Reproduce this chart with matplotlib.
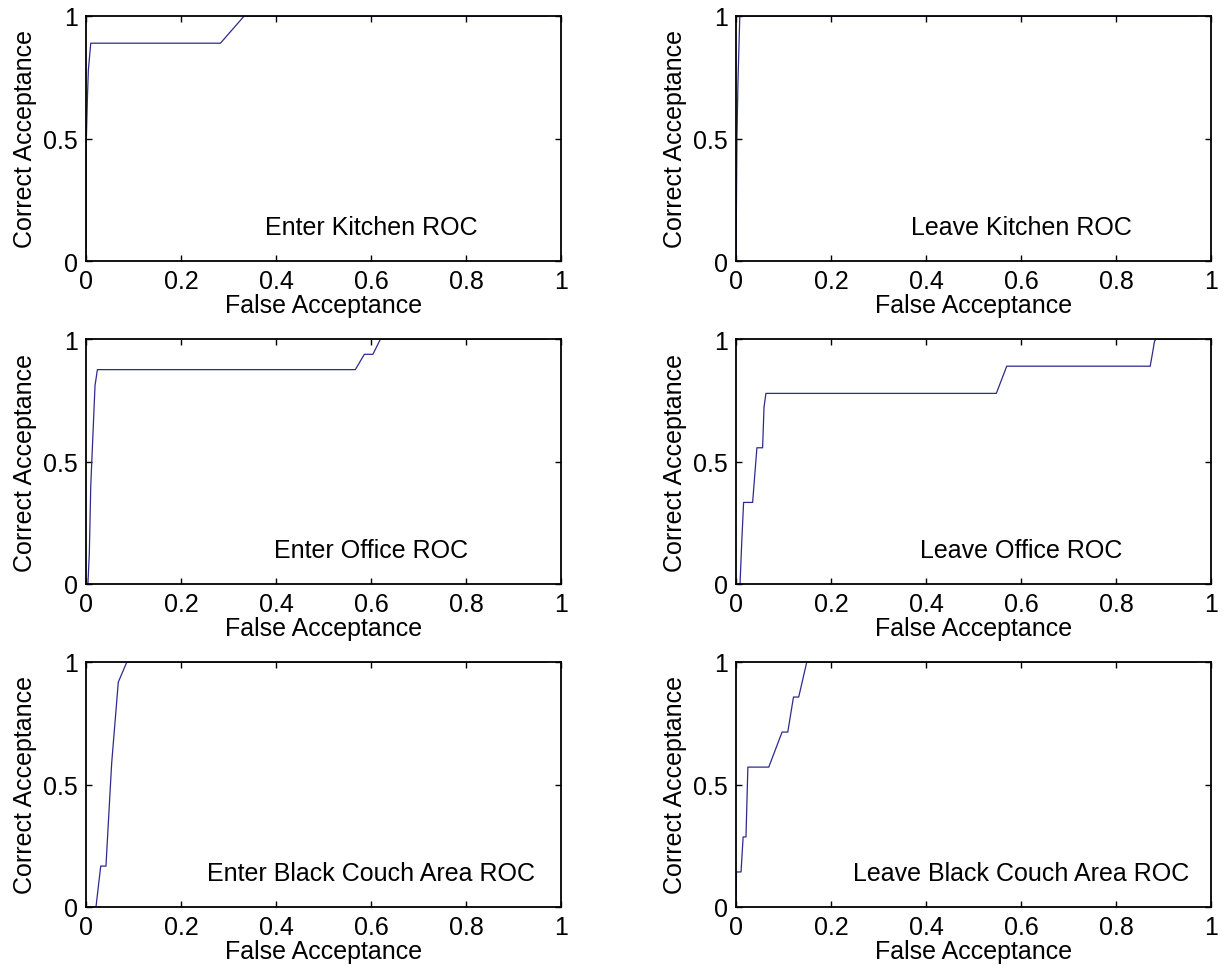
import matplotlib
matplotlib.use("Agg")
import matplotlib.pyplot as plt
from matplotlib.ticker import FuncFormatter

plt.rcParams['font.family'] = ['Liberation Sans', 'DejaVu Sans']

titles = ["Enter Kitchen ROC", "Leave Kitchen ROC",
          "Enter Office ROC", "Leave Office ROC",
          "Enter Black Couch Area ROC", "Leave Black Couch Area ROC"]

enter_kitchen_far = [0, 0, 0.003, 0.005, 0.01, 0.283, 0.333, 0.97]
enter_kitchen_car = [0, 0.44, 0.667, 0.78, 0.889, 0.889, 1.0, 1.0]

leave_kitchen_far = [0, 0.002, 0.004, 0.008, 0.97]
leave_kitchen_car = [0, 0.5, 0.72, 1.0, 1.0]

enter_office_far = [0, 0.004, 0.007, 0.01, 0.019, 0.024, 0.567, 0.586, 0.604, 0.62, 0.97]
enter_office_car = [0, 0, 0.125, 0.4, 0.81, 0.875, 0.875, 0.9375, 0.9375, 1.0, 1.0]

leave_office_far = [0, 0.0085, 0.012, 0.016, 0.035, 0.044, 0.056, 0.059, 0.063, 0.548, 0.57, 0.872, 0.877, 0.881, 0.884, 0.97]
leave_office_car = [0, 0, 0.167, 0.333, 0.333, 0.556, 0.556, 0.722, 0.778, 0.778, 0.889, 0.889, 0.944, 0.99, 1.0, 1.0]

enter_couch_far = [0, 0.021, 0.031, 0.042, 0.054, 0.068, 0.086, 0.97]
enter_couch_car = [0, 0, 0.167, 0.167, 0.586, 0.918, 1.0, 1.0]

leave_couch_far = [0, 0.001, 0.0106, 0.015, 0.021, 0.025, 0.069, 0.097, 0.109, 0.121, 0.132, 0.149, 0.97]
leave_couch_car = [0, 0.143, 0.143, 0.286, 0.286, 0.571, 0.571, 0.714, 0.714, 0.857, 0.857, 1.0, 1.0]

far_list = [enter_kitchen_far, leave_kitchen_far, enter_office_far,
            leave_office_far, enter_couch_far, leave_couch_far]
car_list = [enter_kitchen_car, leave_kitchen_car, enter_office_car,
            leave_office_car, enter_couch_car, leave_couch_car]

x_ticks = [0, 0.2, 0.4, 0.6, 0.8, 1]
y_ticks = [0, 0.5, 1]

W, H = 1225, 979
fig = plt.figure(figsize=(W / 100, H / 100), dpi=100)

lefts = [86, 736]
bottoms = [262, 585, 908]
aw, ah = 475, 245
fs = 18

def fmt(v, pos):
    if abs(v) < 1e-9:
        return "0"
    if abs(v - 1) < 1e-9:
        return "1"
    return ("%g" % v)

for i in range(6):
    r, c = divmod(i, 2)
    ax = fig.add_axes([lefts[c] / W, (H - bottoms[r]) / H, aw / W, ah / H])
    ax.plot(far_list[i], car_list[i], color='#2e2a8c', lw=0.9)
    ax.set_xlim(0, 1)
    ax.set_ylim(0, 1)
    ax.set_xticks(x_ticks)
    ax.set_yticks(y_ticks)
    ax.xaxis.set_major_formatter(FuncFormatter(fmt))
    ax.yaxis.set_major_formatter(FuncFormatter(fmt))
    ax.tick_params(direction='in', top=True, right=True, length=4, width=1,
                   labelsize=fs)
    ax.tick_params(axis='x', pad=6)
    ax.tick_params(axis='y', pad=6)
    for s in ax.spines.values():
        s.set_linewidth(1.3)
    ax.set_xlabel("False Acceptance", fontsize=fs, labelpad=0)
    ax.set_ylabel("Correct Acceptance", fontsize=fs, labelpad=4)
    ax.text(0.6, 0.14, titles[i], fontsize=fs, ha='center', va='center',
            transform=ax.transData)

fig.savefig("out.png", dpi=100)
